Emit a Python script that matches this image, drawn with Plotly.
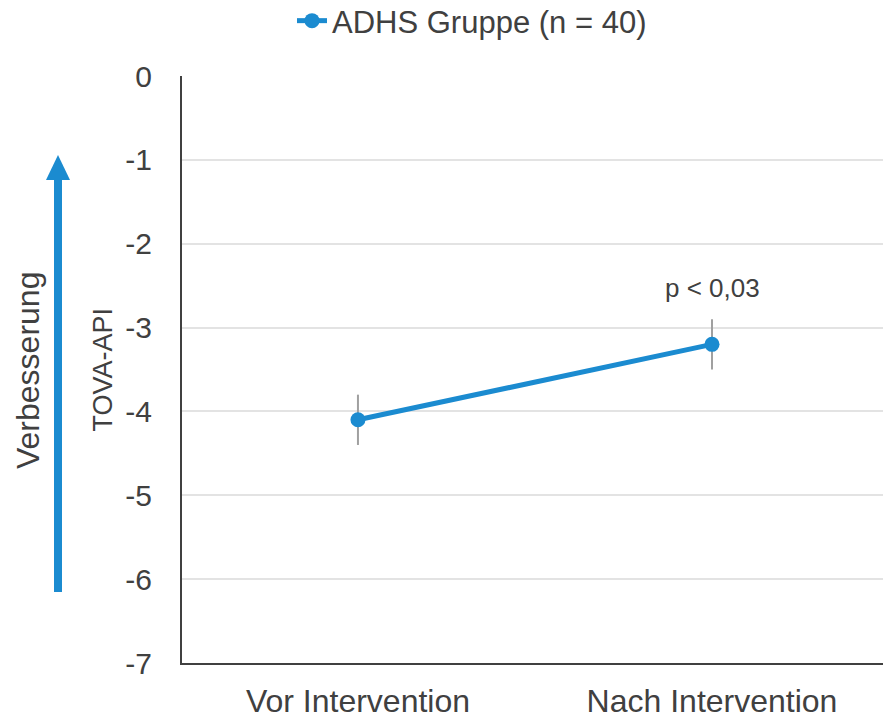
import plotly.graph_objects as go

categories = ["Vor Intervention", "Nach Intervention"]
values = [-4.1, -3.2]
errors = [0.3, 0.3]
series_name = "ADHS Gruppe (n = 40)"
y_ticks = [0, -1, -2, -3, -4, -5, -6, -7]
p_label = "p < 0,03"

BLUE = "#1B8BD0"
TEXT = "#404040"
FONT = "Liberation Sans, Arial, sans-serif"

# plot area spans x 182..883, y 76..663 on the 883x718 page
PL, PT, PB = 182, 76, 663
PW, PH = 883 - PL, PB - PT

fig = go.Figure()
fig.add_trace(go.Scatter(
    x=categories, y=values, name=series_name, mode="lines+markers",
    line=dict(color=BLUE, width=5),
    marker=dict(color=BLUE, size=15),
    error_y=dict(type="data", array=errors, visible=True, color="#A0A0A0",
                 thickness=2, width=0),
))

fig.add_annotation(x=categories[1], y=values[1], text=p_label, showarrow=False,
                   yshift=56, font=dict(size=26, color=TEXT, family=FONT))

# y axis titles
fig.add_annotation(xref="paper", yref="paper", x=(102 - PL) / PW, y=0.5,
                   xanchor="center", text="TOVA-API", textangle=-90, showarrow=False,
                   font=dict(size=27, color=TEXT, family=FONT))
fig.add_annotation(xref="paper", yref="paper", x=(28 - PL) / PW, y=(PB - 371) / PH,
                   xanchor="center", text="Verbesserung", textangle=-90, showarrow=False,
                   font=dict(size=32, color=TEXT, family=FONT))

# improvement arrow
ax_x = (58 - PL) / PW
y_bot = (PB - 592) / PH
y_head = (PB - 180) / PH
y_tip = (PB - 155) / PH
hw = 12 / PW
fig.add_shape(type="line", xref="paper", yref="paper", x0=ax_x, x1=ax_x,
              y0=y_bot, y1=y_head + 0.003, line=dict(color=BLUE, width=8))
fig.add_shape(type="path", xref="paper", yref="paper",
              path=f"M {ax_x-hw} {y_head} L {ax_x+hw} {y_head} L {ax_x} {y_tip} Z",
              fillcolor=BLUE, line=dict(color=BLUE, width=0))

fig.update_layout(
    width=883, height=718,
    margin=dict(l=PL, r=0, t=PT, b=718 - PB, autoexpand=False),
    paper_bgcolor="white", plot_bgcolor="white",
    font=dict(family=FONT, color=TEXT, size=30),
    showlegend=True,
    legend=dict(orientation="h", x=(292 - PL) / PW, xanchor="left",
                y=(PB - 21) / PH, yanchor="middle",
                font=dict(size=31, color=TEXT, family=FONT)),
    xaxis=dict(showgrid=False, showline=True, linecolor="#404040", linewidth=2,
               ticks="", tickfont=dict(size=32, color=TEXT), ticklabelstandoff=9,
               range=[-0.497, 1.483]),
    yaxis=dict(range=[-7, 0], tickvals=y_ticks, ticktext=[str(v) for v in y_ticks],
               showgrid=True, gridcolor="#E3E3E3",
               gridwidth=1.5, showline=True, linecolor="#404040", linewidth=2,
               zeroline=False, ticks="", tickfont=dict(size=30, color=TEXT),
               ticklabelstandoff=22),
)

fig.write_html("out.html", config={"displayModeBar": False},
               post_script="document.body.style.margin='0';")
